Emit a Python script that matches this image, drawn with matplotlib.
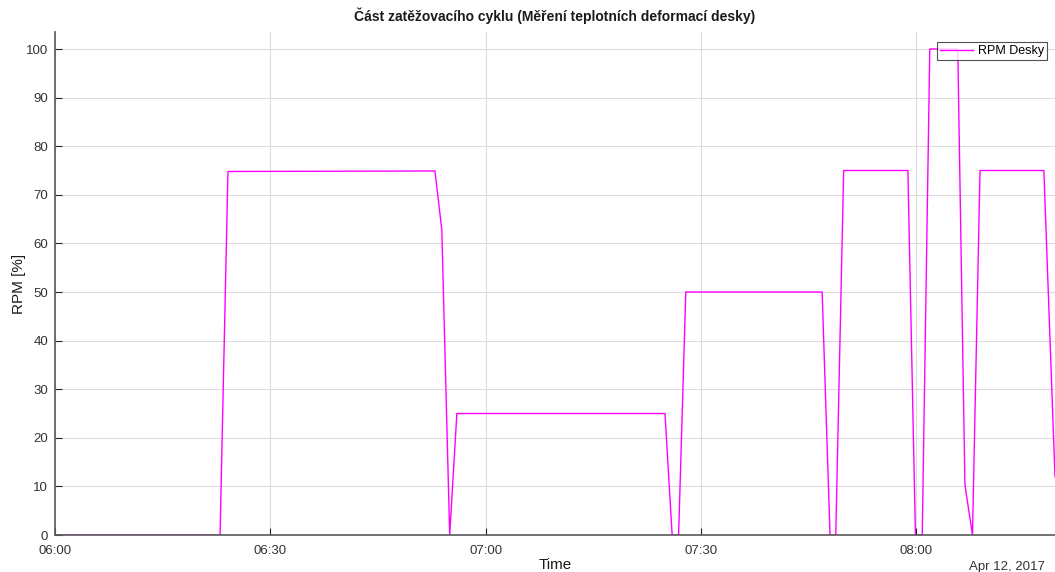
import numpy as np
import datetime as dt
import matplotlib
matplotlib.use('Agg')
import matplotlib.pyplot as plt
import matplotlib.dates as mdates

plt.rcParams['font.family'] = ['Liberation Sans', 'DejaVu Sans']

# minutes after 06:00 and RPM values
minutes = [0, 23.0, 24.1, 52.95, 53.9, 55.0, 56.0, 85.0, 86.0, 86.9, 87.9,
           106.9, 108.0, 108.8, 109.9, 118.85, 119.9, 120.85, 121.9, 125.8,
           126.8, 127.85, 128.9, 137.8, 139.35]
rpm = [0, 0, 74.8, 74.9, 62.8, 0, 25, 25, 0, 0, 50,
       50, 0, 0, 75, 75, 0, 0, 100, 100,
       10.3, 0, 75, 75, 12]

t0 = dt.datetime(2017, 4, 12, 6, 0)
times = [t0 + dt.timedelta(minutes=m) for m in minutes]
ytick_vals = np.arange(0, 101, 10)

fig = plt.figure(figsize=(10.55, 5.72), dpi=100)
ax = fig.add_axes([55/1055, 37/572, 1000/1055, 503/572])

ax.plot(times, rpm, color=(1, 0, 1), lw=1.0, label='RPM Desky')

ax.set_xlim(times[0], times[-1])
ax.set_ylim(0, 103.5)
ax.set_yticks(ytick_vals)
ax.xaxis.set_major_locator(mdates.MinuteLocator(byminute=[0, 30]))
ax.xaxis.set_major_formatter(mdates.DateFormatter('%H:%M'))

ax.grid(True, color='#dcdcdc', lw=0.8)
ax.set_axisbelow(True)
for s in ['top', 'right']:
    ax.spines[s].set_visible(False)
for s in ['left', 'bottom']:
    ax.spines[s].set_color('#5a5a5a')
    ax.spines[s].set_linewidth(1.2)
ax.tick_params(direction='in', length=5, colors='#262626', labelsize=9.5, labelcolor='#333333')
ax.tick_params(axis='x', pad=7)
ax.tick_params(axis='y', pad=5)

ax.set_title('Část zatěžovacího cyklu (Měření teplotních deformací desky)',
             fontsize=10, fontweight='bold', color='#1a1a1a', pad=8)
ax.set_xlabel('Time', fontsize=11, color='#1a1a1a', labelpad=1)
ax.set_ylabel('RPM [%]', fontsize=11, color='#1a1a1a', labelpad=0)
ax.text(0.99, -0.052, 'Apr 12, 2017', transform=ax.transAxes, ha='right', va='top',
        fontsize=9.5, color='#333333')

leg = ax.legend(loc='upper right', fontsize=9, frameon=True, fancybox=False,
                edgecolor='#262626', borderpad=0.25, handlelength=2.6, handletextpad=0.4,
                borderaxespad=0, bbox_to_anchor=(0.992, 0.98))
leg.get_frame().set_linewidth(0.8)

fig.savefig('out.png', dpi=100)
